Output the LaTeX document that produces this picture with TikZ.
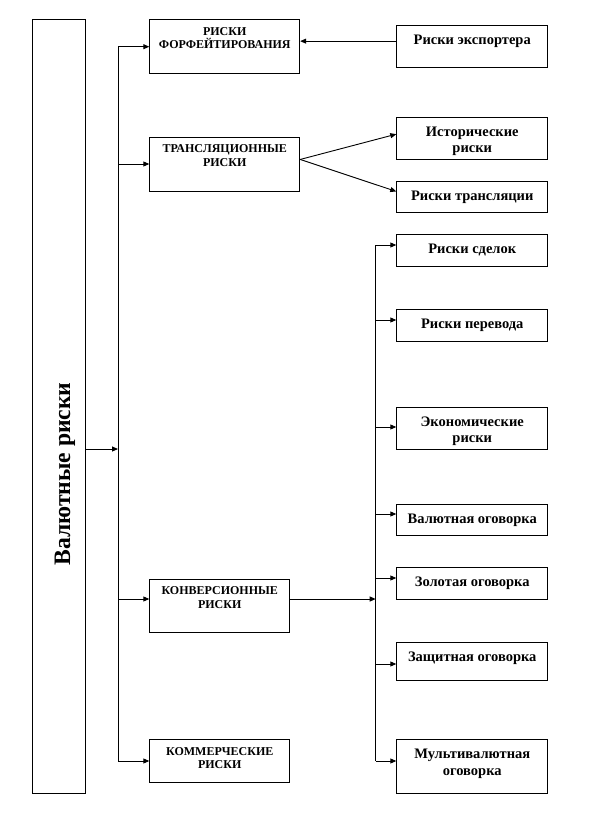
\documentclass[tikz,border=0pt]{standalone}
\usepackage{fontspec}
\setmainfont{Liberation Serif}
\usetikzlibrary{arrows.meta,positioning}

\begin{document}
\begin{tikzpicture}[x=1pt,y=-1pt,line width=0.9pt,
    >={Triangle[length=6pt,width=5pt]},
    box/.style={draw,anchor=north west,inner sep=0pt,minimum width=151pt},
    upper/.style={anchor=north,inner sep=0pt,yshift=-7.6pt,align=center,
        font=\bfseries\fontsize{12}{13.6}\selectfont},
    lower/.style={anchor=north,inner sep=0pt,yshift=-9.4pt,align=center,
        font=\bfseries\fontsize{14.5}{16.4}\selectfont}]
    \useasboundingbox (0,0) rectangle (594,817);

    % Main box
    \node[box,minimum width=52.8pt,minimum height=774pt] (main) at (31.7,19.3) {};
    \node[rotate=90,inner sep=0pt,font=\bfseries\fontsize{23.6}{28}\selectfont] (mainlbl) at (64.8,474) {Валютные риски};

    % Left column
    \node[box,minimum width=150pt,minimum height=54pt,label={[upper]north:{РИСКИ\\ФОРФЕЙТИРОВАНИЯ}}] (forf) at (149.3,19.3) {};
    \node[box,minimum width=150pt,minimum height=54pt,label={[upper]north:{ТРАНСЛЯЦИОННЫЕ\\РИСКИ}}] (trans) at (149.3,137) {};
    \node[box,minimum width=140pt,minimum height=53.6pt,label={[upper]north:{КОНВЕРСИОННЫЕ\\РИСКИ}}] (conv) at (149.3,578.7) {};
    \node[box,minimum width=140pt,minimum height=43pt,label={[upper]north:{КОММЕРЧЕСКИЕ\\РИСКИ}}] (comm) at (149.3,739) {};

    % Right column
    \node[box,minimum height=42pt,label={[lower]north:{Риски экспортера}}] (exp) at (396.3,24.7) {};
    \node[box,minimum height=42pt,label={[lower]north:{Исторические\\риски}}] (hist) at (396.3,116.7) {};
    \node[box,minimum height=31pt,label={[lower]north:{Риски трансляции}}] (trl) at (396.3,181) {};
    \node[box,minimum height=31.7pt,label={[lower]north:{Риски сделок}}] (deal) at (396.3,234.3) {};
    \node[box,minimum height=31.7pt,label={[lower]north:{Риски перевода}}] (perev) at (396.3,309.3) {};
    \node[box,minimum height=42.7pt,label={[lower]north:{Экономические\\риски}}] (econ) at (396.3,406.7) {};
    \node[box,minimum height=31.5pt,label={[lower]north:{Валютная оговорка}}] (valut) at (396.3,503.7) {};
    \node[box,minimum height=32pt,label={[lower]north:{Золотая оговорка}}] (gold) at (396.3,567.3) {};
    \node[box,minimum height=37.7pt,label={[lower]north:{Защитная оговорка}}] (prot) at (396.3,642.3) {};
    \node[box,minimum height=54pt,label={[lower]north:{Мультивалютная\\оговорка}}] (multi) at (396.3,739.3) {};

    % First trunk
    \coordinate (t0) at (118,449);
    \coordinate (t1) at (118,46.7);
    \coordinate (t2) at (118,164);
    \coordinate (t3) at (118,599);
    \coordinate (t4) at (118,761);
    \draw (t1) -- (t4);
    \draw[->] (t0 -| main.east) -- (t0);
    \draw[->] (t1) -- (t1 -| forf.west);
    \draw[->] (t2) -- (t2 -| trans.west);
    \draw[->] (t3) -- (t3 -| conv.west);
    \draw[->] (t4) -- (t4 -| comm.west);

    % Exporter and translation risks
    \coordinate (e0) at ([yshift=5pt]exp.west);
    \draw[->] (e0) -- (e0 -| forf.east);
    \draw[->] ([yshift=5pt]trans.east) -- ([yshift=4pt]hist.west);
    \draw[->] ([yshift=5pt]trans.east) -- ([yshift=5.5pt]trl.west);

    % Second trunk
    \coordinate (s0) at (375.7,599);
    \coordinate (s1) at (375.7,245);
    \coordinate (s2) at (375.7,320);
    \coordinate (s3) at (375.7,427);
    \coordinate (s4) at (375.7,514);
    \coordinate (s5) at (375.7,578);
    \coordinate (s6) at (375.7,664);
    \coordinate (s7) at (375.7,761);
    \draw (s1) -- (s7);
    \draw[->] (s0 -| conv.east) -- (s0);
    \draw[->] (s1) -- (s1 -| deal.west);
    \draw[->] (s2) -- (s2 -| perev.west);
    \draw[->] (s3) -- (s3 -| econ.west);
    \draw[->] (s4) -- (s4 -| valut.west);
    \draw[->] (s5) -- (s5 -| gold.west);
    \draw[->] (s6) -- (s6 -| prot.west);
    \draw[->] (s7) -- (s7 -| multi.west);
\end{tikzpicture}
\end{document}
